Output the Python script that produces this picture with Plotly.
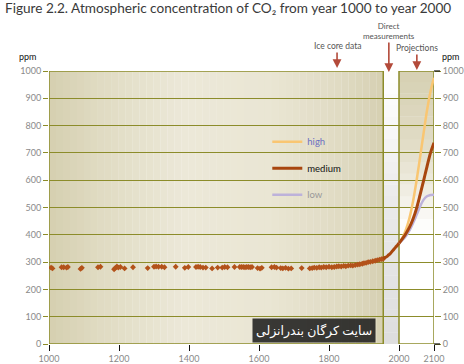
import plotly.graph_objects as go

# ---------------- data ----------------
ice_years = [1006, 1010, 1036, 1042, 1050, 1054, 1090, 1094, 1140, 1147, 1186, 1190, 1194,
             1198, 1204, 1216, 1240, 1282, 1300, 1306, 1313, 1322, 1330, 1362, 1388, 1398,
             1420, 1426, 1432, 1440, 1448, 1466, 1482, 1495, 1502, 1510, 1530, 1545, 1550,
             1555, 1560, 1565, 1570, 1575, 1580, 1596, 1603, 1608, 1636, 1644, 1650, 1662,
             1668, 1676, 1684, 1692, 1722, 1745, 1752, 1758, 1765, 1772, 1778, 1785, 1792,
             1800, 1808, 1815, 1822, 1828, 1835, 1842, 1848, 1855, 1862, 1868, 1875, 1882,
             1888, 1895, 1900, 1906, 1912, 1918, 1925, 1932, 1938, 1944, 1950, 1955]
ice_ppm = [280, 277, 281, 281, 280, 282, 275, 279, 281, 283, 274, 279, 284,
           280, 282, 277, 281, 278, 283, 284, 283, 283, 281, 283, 279, 282,
           282, 283, 282, 280, 280, 277, 280, 280, 282, 281, 282, 282, 282,
           282, 281, 282, 282, 281, 282, 278, 276, 279, 281, 282, 280, 278,
           277, 279, 276, 277, 278, 277, 278, 280, 279, 281, 280, 282, 281,
           283, 281, 282, 284, 285, 284, 286, 285, 287, 288, 287, 289, 291,
           292, 294, 296, 297, 300, 301, 303, 305, 307, 309, 311, 312]

direct_years = [1955, 1958, 1965, 1970, 1975, 1980, 1985, 1990, 1995, 2000]
direct_ppm = [312, 315, 320, 326, 331, 339, 346, 354, 361, 369]

proj_years = [2000, 2010, 2020, 2030, 2040, 2050, 2060, 2070, 2080, 2090, 2100]
high_ppm = [369, 390, 420, 462, 522, 597, 682, 770, 855, 925, 975]
medium_ppm = [369, 386, 405, 428, 458, 496, 545, 597, 650, 700, 737]
low_ppm = [369, 381, 396, 416, 442, 472, 503, 528, 541, 546, 547]

x_ticks = [1000, 1200, 1400, 1600, 1800, 2000, 2100]
y_ticks = [0, 100, 200, 300, 400, 500, 600, 700, 800, 900, 1000]

title_text = "Figure 2.2. Atmospheric concentration of CO₂ from year 1000 to year 2000"

# ---------------- styles ----------------
OLIVE = "#8c8c2a"
MED = "#a8460f"
HIGH = "#f9c672"
LOW = "#bdb2da"
ARROW = "#b34a3a"
TICKFONT = dict(family="Lato, Open Sans, sans-serif", size=9, color="#8a8a8a")


def lerp(c1, c2, t):
    a = [int(c1[i:i + 2], 16) for i in (1, 3, 5)]
    b = [int(c2[i:i + 2], 16) for i in (1, 3, 5)]
    return "rgb(%d,%d,%d)" % tuple(round(a[k] + (b[k] - a[k]) * t) for k in range(3))


def grad(stops, t):
    for i in range(len(stops) - 1):
        p0, c0 = stops[i]
        p1, c1 = stops[i + 1]
        if p0 <= t <= p1:
            return lerp(c0, c1, (t - p0) / (p1 - p0) if p1 > p0 else 0)
    return lerp(stops[-1][1], stops[-1][1], 0)


fig = go.Figure()

shapes = []
# left panel (ice core) horizontal gradient
left_stops = [(0.0, "#d5cfb0"), (0.15, "#e0dbc2"), (0.4, "#ece8d8"), (0.65, "#eae6d4"),
              (0.85, "#e1dcc5"), (1.0, "#d6d0b2")]
x0, x1 = 1000, 1955
n = 48
for i in range(n):
    a = x0 + (x1 - x0) * i / n
    b = x0 + (x1 - x0) * (i + 1) / n
    shapes.append(dict(type="rect", xref="x", yref="y", x0=a, x1=b + 0.5, y0=0, y1=1000,
                       fillcolor=grad(left_stops, (i + 0.5) / n), line_width=0, layer="below"))
# grey strip between panels (direct measurements)
grey_stops = [(0.0, "#dedede"), (0.5, "#e9e9e9"), (0.8, "#f8f8f8"), (1.0, "#ffffff")]
m = 24
for i in range(m):
    a = 1000 * i / m
    b = 1000 * (i + 1) / m
    shapes.append(dict(type="rect", xref="x", yref="y", x0=1955, x1=2000, y0=a, y1=b + 1,
                       fillcolor=grad(grey_stops, (i + 0.5) / m), line_width=0, layer="below"))
# right panel (projections) vertical gradient
right_stops = [(0.0, "#ffffff"), (0.42, "#ffffff"), (0.55, "#f1eee4"), (0.75, "#e0dbc4"),
               (1.0, "#d6d0b3")]
for i in range(m):
    a = 1000 * i / m
    b = 1000 * (i + 1) / m
    shapes.append(dict(type="rect", xref="x", yref="y", x0=2000, x1=2100, y0=a, y1=b + 1,
                       fillcolor=grad(right_stops, (i + 0.5) / m), line_width=0, layer="below"))
# panel borders
shapes.append(dict(type="rect", xref="x", yref="y", x0=1000, x1=1955, y0=0, y1=1000,
                   line=dict(color=OLIVE, width=1.5), fillcolor="rgba(0,0,0,0)", layer="below"))
shapes.append(dict(type="rect", xref="x", yref="y", x0=2000, x1=2100, y0=0, y1=1000,
                   line=dict(color=OLIVE, width=1.5), fillcolor="rgba(0,0,0,0)", layer="below"))
# black end ticks on the right axis
for yy in (0, 1):
    shapes.append(dict(type="line", xref="paper", yref="paper", x0=1, x1=1 + 6 / 385,
                       y0=yy, y1=yy, line=dict(color="#111111", width=1.2)))

# ---------------- traces ----------------
fig.add_trace(go.Scatter(x=ice_years, y=ice_ppm, mode="markers",
                         marker=dict(symbol="diamond", size=4.5, color="#b3521a", line_width=0),
                         showlegend=False, hoverinfo="skip"))
fig.add_trace(go.Scatter(x=direct_years, y=direct_ppm, mode="lines",
                         line=dict(color=MED, width=3, shape="spline"),
                         showlegend=False, hoverinfo="skip"))
fig.add_trace(go.Scatter(x=proj_years, y=high_ppm, mode="lines",
                         name="<span style='color:#6b70c2'>high</span>", legendrank=1,
                         legendgroup="h", line=dict(color=HIGH, width=2.5, shape="spline")))
fig.add_trace(go.Scatter(x=proj_years, y=low_ppm, mode="lines",
                         name="<span style='color:#999999'>low</span>", legendrank=3,
                         legendgroup="l", line=dict(color=LOW, width=2.5, shape="spline")))
fig.add_trace(go.Scatter(x=proj_years, y=medium_ppm, mode="lines",
                         name="<span style='color:#111111'>medium</span>", legendrank=2,
                         legendgroup="m", line=dict(color=MED, width=3, shape="spline")))
# dummy trace for right axis
fig.add_trace(go.Scatter(x=[None], y=[None], yaxis="y2", showlegend=False, hoverinfo="skip"))

# ---------------- annotations ----------------
ann = []
ann.append(dict(x=1823, y=1000, xref="x", yref="y", ax=0, ay=-22, text="Ice core data",
                showarrow=True, arrowhead=2, arrowsize=1.1, arrowwidth=1.6, arrowcolor=ARROW,
                font=dict(family="Lato, sans-serif", size=8.5, color="#555555"), yshift=3))
ann.append(dict(x=1971, y=1000, xref="x", yref="y", ax=0, ay=-41, text="Direct<br>measurements",
                showarrow=True, arrowhead=2, arrowsize=1.1, arrowwidth=1.6, arrowcolor=ARROW,
                font=dict(family="Lato, sans-serif", size=8, color="#555555"), yshift=-1))
ann.append(dict(x=2051, y=1000, xref="x", yref="y", ax=0, ay=-22, text="Projections",
                showarrow=True, arrowhead=2, arrowsize=1.1, arrowwidth=1.6, arrowcolor=ARROW,
                font=dict(family="Lato, sans-serif", size=8.5, color="#555555"), yshift=1))
for xp in (-0.055, 1.045):
    ann.append(dict(x=xp, y=1.025, xref="paper", yref="paper", text="ppm", showarrow=False,
                    font=dict(family="Lato, sans-serif", size=9, color="#111111"),
                    xanchor="center", yanchor="bottom"))
ann.append(dict(x=1758, y=48, xref="x", yref="y", text="سایت کرگان بندرانزلی", showarrow=False,
                font=dict(family="Noto Sans, DejaVu Sans, sans-serif", size=12.5, color="#ffffff"),
                bgcolor="rgba(25,25,25,0.85)", borderpad=3))

fig.update_layout(
    width=464, height=364,
    margin=dict(l=49, r=30, t=71, b=20, autoexpand=False),
    paper_bgcolor="white", plot_bgcolor="white",
    title=dict(text=title_text, xref="container", yref="container", x=5 / 464,
               y=1 - 3 / 364, xanchor="left", yanchor="top", automargin=False,
               font=dict(family="Lato, Open Sans, sans-serif", size=13.6, color="#3a3a3a")),
    shapes=shapes, annotations=ann,
    xaxis=dict(range=[1000, 2100], tickvals=x_ticks, ticks="outside", ticklen=6,
               tickcolor="#111111", showgrid=False, zeroline=False, showline=False,
               tickfont=TICKFONT, fixedrange=True, automargin=False),
    yaxis=dict(range=[0, 1000], tickvals=y_ticks, ticks="outside", ticklen=5,
               tickcolor=OLIVE, showgrid=True, gridcolor=OLIVE, gridwidth=1,
               zeroline=False, showline=False, tickfont=TICKFONT, fixedrange=True,
               automargin=False),
    yaxis2=dict(range=[0, 1000], tickvals=y_ticks, ticks="outside", ticklen=6,
                tickcolor=OLIVE, overlaying="y", side="right", showgrid=False,
                zeroline=False, showline=False, tickfont=TICKFONT, fixedrange=True,
                automargin=False),
    legend=dict(x=0.567, y=0.794, xanchor="left", yanchor="top", bgcolor="rgba(0,0,0,0)",
                font=dict(family="Lato, sans-serif", size=9.5), tracegroupgap=7.5,
                itemwidth=30),
    showlegend=True,
)

fig.write_html("out.html", config={"displayModeBar": False, "staticPlot": True},
               post_script="document.body.style.margin='0px';document.body.style.overflow='hidden';")
